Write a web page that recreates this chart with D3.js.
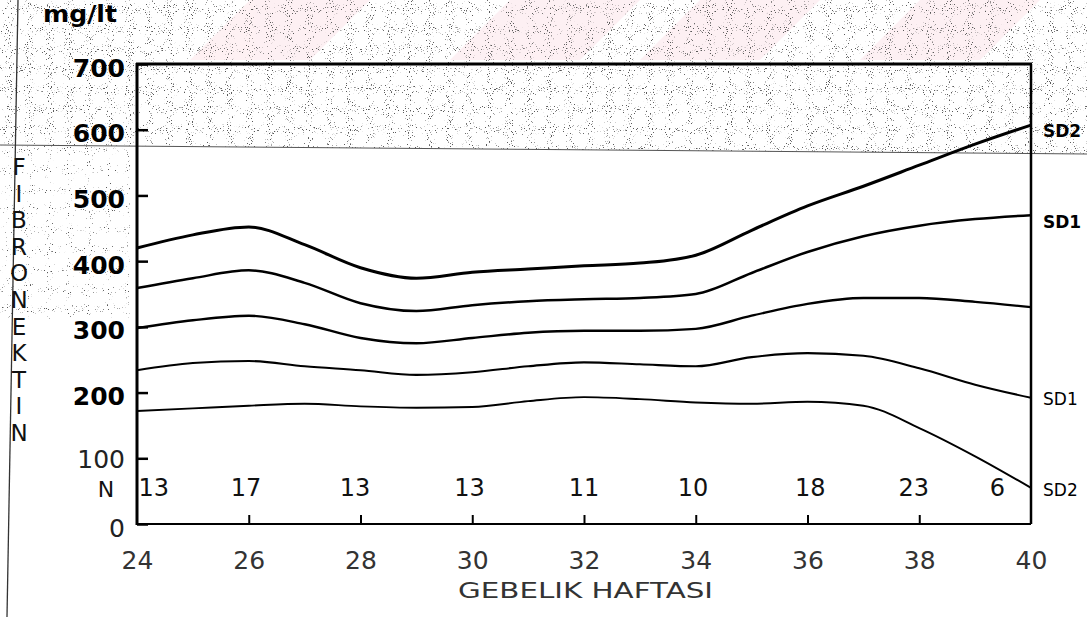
<!DOCTYPE html>
<html>
<head>
<meta charset="utf-8">
<script src="https://cdn.jsdelivr.net/npm/d3@7"></script>
<style>
  html, body { margin: 0; padding: 0; background: #fff; }
  svg { display: block; }
</style>
</head>
<body>
<svg id="chart" width="1087" height="617"></svg>
<script>
// ---- data ----
const weeks = [24, 25, 26, 27, 28, 29, 30, 31, 32, 33, 34, 35, 36, 37, 38, 39, 40];
const sd2Upper = [420, 440, 452, 425, 390, 374, 383, 388, 393, 397, 409, 447, 484, 514, 546, 578, 607];
const sd1Upper = [359, 374, 386, 367, 336, 324, 333, 339, 342, 344, 350, 382, 414, 438, 454, 464, 470];
const meanLine = [298, 310, 317, 304, 283, 275, 283, 291, 294, 294, 297, 317, 335, 344, 344, 338, 330];
const sd1Lower = [234, 245, 248, 240, 234, 227, 231, 240, 246, 243, 240, 254, 260, 256, 237, 212, 192];
const sd2Lower = [172, 176, 180, 183, 179, 177, 178, 187, 193, 190, 185, 183, 186, 180, 146, 103, 55];

const seriesLabels = ["SD2", "SD1", "", "SD1", "SD2"];
const nCounts = [13, 17, 13, 13, 11, 10, 18, 23, 6];
const nWeeks = [24.3, 25.95, 27.9, 29.95, 32, 33.95, 36.05, 37.9, 39.4];
const xTicks = [24, 26, 28, 30, 32, 34, 36, 38, 40];
const yTicks = [0, 100, 200, 300, 400, 500, 600, 700];
const yTitleLetters = ["F", "I", "B", "R", "O", "N", "E", "K", "T", "I", "N"];
const unitLabel = "mg/lt";
const xTitle = "GEBELIK  HAFTASI";

// ---- layout ----
const svg = d3.select("#chart");
const mLeft = 137, mRight = 1031, mTop = 64, mBottom = 524;
const x = d3.scaleLinear().domain([24, 40]).range([mLeft, mRight]);
const y = d3.scaleLinear().domain([0, 700]).range([mBottom, mTop]);

// scan background texture
const defs = svg.append("defs");
function speckle(id, seed, gain, offset) {
  const f = defs.append("filter").attr("id", id).attr("x", 0).attr("y", 0).attr("width", 1).attr("height", 1);
  f.append("feTurbulence").attr("type", "fractalNoise").attr("baseFrequency", 0.95).attr("numOctaves", 1).attr("seed", seed).attr("result", "t");
  f.append("feColorMatrix").attr("in", "t").attr("type", "matrix")
    .attr("values", `0 0 0 0 0.1  0 0 0 0 0.1  0 0 0 0 0.1  ${gain} 0 0 0 ${offset}`);
}
speckle("spk", 7, 14, -9.0);
speckle("spk2", 11, 14, -9.6);

defs.append("clipPath").attr("id", "topBand")
  .append("path").attr("d", "M0,0 L1087,0 L1087,154 L0,145 Z");
defs.append("clipPath").attr("id", "leftBand")
  .append("path").attr("d", "M0,145 L130,146 L130,320 L0,320 Z");

// faint pink watermark
const pink = svg.append("g").attr("fill", "#fdecef").attr("opacity", 0.75);
[[190, 330], [450, 600], [640, 780], [860, 1000]].forEach(([a, b]) => {
  pink.append("path").attr("d", `M${a},60 L${a + 60},0 L${b + 40},0 L${b - 20},60 Z`);
});

svg.append("g").attr("clip-path", "url(#topBand)")
  .append("rect").attr("x", 0).attr("y", 0).attr("width", 1087).attr("height", 160).attr("filter", "url(#spk)");
svg.append("g").attr("clip-path", "url(#leftBand)")
  .append("rect").attr("x", 0).attr("y", 140).attr("width", 135).attr("height", 185).attr("filter", "url(#spk2)");

// scan fold line and page margin line
svg.append("line").attr("x1", 0).attr("y1", 145).attr("x2", 1087).attr("y2", 154)
  .attr("stroke", "#555").attr("stroke-width", 1);
svg.append("line").attr("x1", 18).attr("y1", 0).attr("x2", 7).attr("y2", 617)
  .attr("stroke", "#333").attr("stroke-width", 1.3);

// frame
const frame = svg.append("g").attr("stroke", "#000").attr("fill", "none");
frame.append("line").attr("x1", mLeft - 1).attr("x2", mRight + 1).attr("y1", mTop).attr("y2", mTop).attr("stroke-width", 3.2);
frame.append("line").attr("x1", mRight).attr("x2", mRight).attr("y1", mTop).attr("y2", mBottom).attr("stroke-width", 2.5);
frame.append("line").attr("x1", mLeft).attr("x2", mRight).attr("y1", mBottom).attr("y2", mBottom).attr("stroke-width", 2.2);
frame.append("line").attr("x1", mLeft).attr("x2", mLeft).attr("y1", mTop - 1).attr("y2", mBottom + 1).attr("stroke-width", 3);

// y axis
const yAxis = svg.append("g").attr("transform", `translate(${mLeft},0)`)
  .call(d3.axisLeft(y).tickValues(yTicks).tickSize(-11).tickPadding(12).tickFormat(d3.format("d")));
yAxis.select(".domain").remove();
yAxis.selectAll(".tick line").attr("stroke", "#000").attr("stroke-width", 2.5);
yAxis.selectAll(".tick text")
  .attr("font-family", "DejaVu Sans")
  .attr("font-size", 25)
  .attr("font-weight", d => d >= 200 ? "bold" : "normal")
  .attr("fill", d => d >= 200 ? "#000" : "#222")
  .attr("dy", d => d === 100 ? "0.36em" : "0.48em");

// x axis
const xAxis = svg.append("g").attr("transform", `translate(0,${mBottom})`)
  .call(d3.axisBottom(x).tickValues(xTicks).tickSize(-9).tickPadding(27).tickFormat(d3.format("d")));
xAxis.select(".domain").remove();
xAxis.selectAll(".tick line").attr("stroke", "#000").attr("stroke-width", 2)
  .attr("opacity", d => (d === 24 || d === 40) ? 0 : 1);
xAxis.selectAll(".tick text")
  .attr("font-family", "DejaVu Sans")
  .attr("font-size", 25)
  .attr("fill", "#333");

// curves
const series = [sd2Upper, sd1Upper, meanLine, sd1Lower, sd2Lower];
const widths = [3, 2.5, 2.4, 2.1, 1.9];
const line = d3.line().x((d, i) => x(weeks[i])).y(d => y(d)).curve(d3.curveMonotoneX);
svg.append("g").selectAll("path").data(series).join("path")
  .attr("d", d => line(d))
  .attr("fill", "none")
  .attr("stroke", "#000")
  .attr("stroke-width", (d, i) => widths[i])
  .attr("stroke-linejoin", "round");

// SD labels at right end
const labOffsets = [6, 7, 0, 1, 2];
svg.append("g").selectAll("text").data(series).join("text")
  .filter((d, i) => seriesLabels[i] !== "")
  .attr("x", 1043)
  .attr("y", d => y(d[d.length - 1]) + labOffsets[series.indexOf(d)])
  .attr("dy", "0.36em")
  .attr("font-family", "DejaVu Sans")
  .attr("font-size", 17)
  .attr("font-weight", d => series.indexOf(d) < 2 ? "bold" : "normal")
  .attr("fill", "#000")
  .text(d => seriesLabels[series.indexOf(d)]);

// N row
svg.append("text").attr("x", 106).attr("y", 497).attr("text-anchor", "middle")
  .attr("font-family", "DejaVu Sans").attr("font-size", 22).attr("fill", "#111").text("N");
svg.append("g").selectAll("text").data(nCounts).join("text")
  .attr("x", (d, i) => x(nWeeks[i]))
  .attr("y", 496)
  .attr("text-anchor", "middle")
  .attr("font-family", "DejaVu Sans")
  .attr("font-size", 24)
  .attr("fill", "#111")
  .text(d => d);

// unit label
svg.append("text").attr("x", 43).attr("y", 22)
  .attr("font-family", "DejaVu Sans").attr("font-weight", "bold").attr("font-size", 23)
  .attr("textLength", 74).attr("lengthAdjust", "spacingAndGlyphs")
  .attr("fill", "#000").text(unitLabel);

// vertical stacked y title
const ly = d3.scalePoint().domain(d3.range(yTitleLetters.length)).range([175, 441]);
svg.append("g").selectAll("text").data(yTitleLetters).join("text")
  .attr("x", 19)
  .attr("y", (d, i) => ly(i))
  .attr("text-anchor", "middle")
  .attr("font-family", "DejaVu Sans")
  .attr("font-size", 23)
  .attr("fill", "#111")
  .text(d => d);

// x title
svg.append("text").attr("x", 458).attr("y", 598)
  .attr("font-family", "DejaVu Sans").attr("font-size", 22)
  .attr("textLength", 255).attr("lengthAdjust", "spacingAndGlyphs")
  .attr("fill", "#333").text(xTitle);
</script>
</body>
</html>
